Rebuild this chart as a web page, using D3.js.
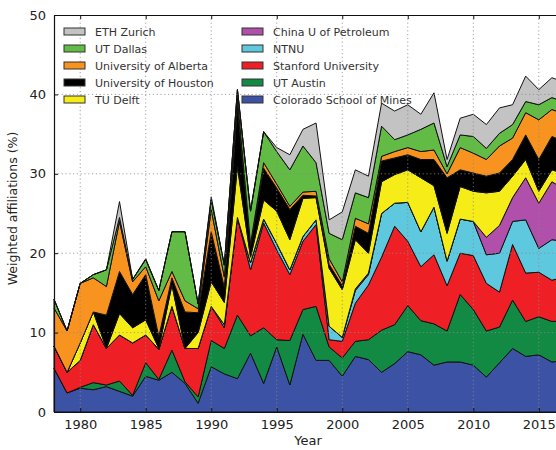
<!DOCTYPE html>
<html>
<head>
<meta charset="utf-8">
<script src="https://cdn.jsdelivr.net/npm/d3@7"></script>
<style>
  body { margin: 0; background: #fff; }
  text { font-family: "DejaVu Sans", sans-serif; fill: #222; }
</style>
</head>
<body>
<svg id="chart"></svg>
<script>
// Years on the x axis
const years = [1978, 1979, 1980, 1981, 1982, 1983, 1984, 1985, 1986, 1987,
               1988, 1989, 1990, 1991, 1992, 1993, 1994, 1995, 1996, 1997,
               1998, 1999, 2000, 2001, 2002, 2003, 2004, 2005, 2006, 2007,
               2008, 2009, 2010, 2011, 2012, 2013, 2014, 2015, 2016, 2017];

// Weighted affiliations (%) per school, bottom of the stack first
const mines    = [5.5, 2.4, 3.0, 2.8, 3.2, 2.6, 2.0, 4.5, 4.0, 5.0, 3.6, 1.1, 5.7, 4.8, 4.2, 7.4, 3.6, 8.2, 3.4, 9.8,
                  6.5, 6.5, 4.5, 7.0, 6.6, 5.0, 6.1, 7.6, 7.2, 5.9, 6.3, 6.3, 5.9, 4.4, 6.2, 8.0, 7.0, 7.2, 6.3, 6.5];
const austin   = [0.0, 0.0, 0.1, 0.9, 0.2, 1.3, 0.1, 1.7, 0.1, 2.8, 0.2, 0.8, 3.3, 3.2, 8.0, 2.2, 7.0, 0.9, 5.6, 3.1,
                  6.8, 1.7, 2.3, 1.9, 2.5, 5.3, 4.9, 5.8, 4.3, 5.2, 3.9, 8.5, 7.0, 5.8, 4.5, 6.1, 4.4, 4.8, 5.1, 5.0];
const stanford = [2.8, 2.6, 3.4, 7.3, 4.6, 5.8, 6.6, 3.5, 3.8, 5.5, 4.2, 6.1, 4.3, 2.6, 12.3, 8.3, 13.2, 11.3, 8.3, 8.6,
                  10.3, 0.9, 2.1, 4.8, 6.9, 9.2, 12.4, 8.1, 6.8, 8.7, 5.7, 5.2, 6.8, 6.0, 4.4, 7.0, 6.1, 5.6, 5.2, 5.5];
const ntnu     = [0, 0, 0, 0, 0, 0, 0, 0, 0, 0, 0, 0, 0, 0.4, 0, 0.9, 0.5, 0.8, 0.6, 0.6,
                  0.6, 1.7, 0.5, 1.6, 1.3, 5.5, 2.9, 4.9, 4.4, 6.0, 3.1, 4.3, 4.3, 3.6, 4.9, 2.9, 6.7, 3.0, 5.1, 4.5];
const china    = [0, 0, 0, 0, 0, 0, 0, 0, 0, 0, 0, 0, 0, 0, 0, 0, 0, 0, 0, 0,
                  0, 0, 0, 0.2, 0.2, 0, 0, 0, 0, 0, 0, 0, 0, 2.2, 3.5, 3.0, 5.3, 5.7, 7.3, 6.5];
const delft    = [0, 0, 2.2, 1.6, 0, 2.7, 1.9, 1.9, 0.1, 2.7, 0, 2.0, 3.1, 2.8, 6.4, 0.7, 2.4, 4.1, 3.8, 4.8,
                  2.8, 7.3, 6.0, 6.2, 2.5, 4.0, 3.6, 4.1, 6.8, 2.7, 3.5, 4.1, 3.8, 5.6, 4.3, 2.7, 2.3, 1.5, 1.5, 2.0];
const houston  = [0, 0, 0, 0, 4.2, 5.3, 4.2, 5.7, 1.5, 0.9, 4.6, 2.5, 6.3, 1.9, 7.6, 1.5, 4.0, 2.9, 3.8, 0.4,
                  0.2, 0.5, 0.5, 1.7, 2.5, 2.6, 2.1, 1.9, 2.3, 3.3, 7.0, 2.1, 2.3, 2.1, 2.3, 2.1, 3.1, 4.0, 4.2, 4.0];
const alberta  = [4.8, 5.2, 7.5, 4.3, 3.6, 6.3, 1.6, 1.0, 4.5, 0.8, 1.4, 0.5, 2.8, 1.3, 1.0, 0.2, 0.7, 0.5, 0.4, 0.4,
                  0.6, 0.7, 0.5, 1.0, 1.2, 0.6, 0.8, 0.9, 1.0, 1.2, 0.5, 2.8, 2.5, 2.1, 3.4, 2.7, 2.8, 5.0, 3.4, 3.5];
const dallas   = [1.1, 0, 0, 0.4, 2.1, 0.5, 0.3, 0.9, 1.3, 5.0, 8.7, 0.6, 1.2, 1.5, 1.1, 4.1, 3.9, 4.1, 4.6, 5.8,
                  3.6, 3.2, 5.3, 3.2, 3.3, 3.8, 1.5, 1.6, 2.8, 3.4, 0.9, 1.6, 2.1, 1.4, 1.6, 1.7, 1.4, 1.9, 1.5, 1.5];
const eth      = [0, 0, 0, 0, 0, 2.0, 0, 0.1, 0, 0, 0, 0, 0.4, 0, 0, 0, 0, 0.5, 1.9, 2.1,
                  5.0, 1.7, 3.5, 2.9, 2.7, 2.9, 3.6, 3.8, 1.9, 3.8, 0.9, 2.1, 2.8, 3.0, 3.2, 2.5, 3.2, 1.9, 2.5, 2.5];

const keys   = ["mines", "austin", "stanford", "ntnu", "china", "delft", "houston", "alberta", "dallas", "eth"];
const names  = ["Colorado School of Mines", "UT Austin", "Stanford University", "NTNU", "China U of Petroleum",
                "TU Delft", "University of Houston", "University of Alberta", "UT Dallas", "ETH Zurich"];
const colors = ["#3b52a5", "#128a44", "#ee1f25", "#5ec8de", "#b150ab",
                "#f6ec18", "#000000", "#f7931e", "#62bb45", "#c3c3c3"];
const yTicks = [0, 10, 20, 30, 40, 50];
const xTicks = [1980, 1985, 1990, 1995, 2000, 2005, 2010, 2015];

// Build rows for d3.stack
const seriesVals = [mines, austin, stanford, ntnu, china, delft, houston, alberta, dallas, eth];
const data = years.map((yr, i) => {
    const row = { year: yr };
    keys.forEach((k, j) => { row[k] = seriesVals[j][i]; });
    return row;
});

// Dimensions (the right end of the axes runs past the window)
const margin = { top: 15, right: -9, bottom: 38, left: 54 };
const width = 556 - margin.left - margin.right;
const height = 450 - margin.top - margin.bottom;

const svg = d3.select("#chart")
    .attr("width", 556)
    .attr("height", 450)
  .append("g")
    .attr("transform", `translate(${margin.left},${margin.top})`);

const x = d3.scaleLinear().domain([1978, 2017]).range([0, width]);
const y = d3.scaleLinear().domain([0, 50]).range([height, 0]);

// Stacked areas
const stacked = d3.stack().keys(keys)(data);
const area = d3.area()
    .x(d => x(d.data.year))
    .y0(d => y(d[0]))
    .y1(d => y(d[1]));

svg.selectAll(".layer")
    .data(stacked)
  .enter().append("path")
    .attr("class", "layer")
    .attr("d", area)
    .attr("fill", (d, i) => colors[i])
    .attr("stroke", "#111")
    .attr("stroke-width", 1)
    .attr("stroke-linejoin", "round");

// Dotted grid, drawn over the areas
svg.append("g")
    .selectAll("line")
    .data(xTicks)
  .enter().append("line")
    .attr("x1", d => x(d)).attr("x2", d => x(d))
    .attr("y1", 0).attr("y2", height)
    .attr("stroke", "#8a8a8a")
    .attr("stroke-width", 0.8)
    .attr("stroke-dasharray", "1.2,2.6");

svg.append("g")
    .selectAll("line")
    .data(yTicks.slice(1, -1))
  .enter().append("line")
    .attr("x1", 0).attr("x2", width)
    .attr("y1", d => y(d)).attr("y2", d => y(d))
    .attr("stroke", "#8a8a8a")
    .attr("stroke-width", 0.8)
    .attr("stroke-dasharray", "1.2,2.6");

// Axes (ticks point inward, like matplotlib)
const xAxis = svg.append("g")
    .attr("transform", `translate(0,${height})`)
    .call(d3.axisBottom(x).tickValues(xTicks).tickFormat(d3.format("d")).tickSizeInner(-4).tickSizeOuter(0).tickPadding(8));
const yAxis = svg.append("g")
    .call(d3.axisLeft(y).tickValues(yTicks).tickSizeInner(-4).tickSizeOuter(0).tickPadding(8));
svg.append("g")
    .call(d3.axisTop(x).tickValues(xTicks).tickFormat("").tickSizeInner(-4).tickSizeOuter(0));

[xAxis, yAxis].forEach(g => {
    g.selectAll("text").style("font-size", "13px").style("fill", "#222");
});
svg.selectAll(".domain").attr("stroke", "#111").attr("stroke-width", 1.2);
svg.selectAll(".tick line").attr("stroke", "#111");

// Axis labels
svg.append("text")
    .attr("transform", "rotate(-90)")
    .attr("x", -height / 2 + 5)
    .attr("y", -margin.left + 17)
    .attr("text-anchor", "middle")
    .style("font-size", "12.5px")
    .text("Weighted affiliations (%)");

svg.append("text")
    .attr("x", 308 - margin.left)
    .attr("y", height + 33)
    .attr("text-anchor", "middle")
    .style("font-size", "13px")
    .text("Year");

// Legend: two columns, top of stack first in the left column
const legendOrder = [9, 8, 7, 6, 5, 4, 3, 2, 1, 0];
const legend = svg.append("g");
legendOrder.forEach((idx, n) => {
    const col = Math.floor(n / 5), row = n % 5;
    const lx = col === 0 ? 10 : 188;
    const ly = 16.5 + row * 17;
    legend.append("rect")
        .attr("x", lx).attr("y", ly - 3.5)
        .attr("width", 21).attr("height", 7)
        .attr("fill", colors[idx])
        .attr("stroke", "#333")
        .attr("stroke-width", 1);
    legend.append("text")
        .attr("x", lx + 31).attr("y", ly + 4)
        .style("font-size", "11px")
        .style("fill", "#333")
        .text(names[idx]);
});
</script>
</body>
</html>
